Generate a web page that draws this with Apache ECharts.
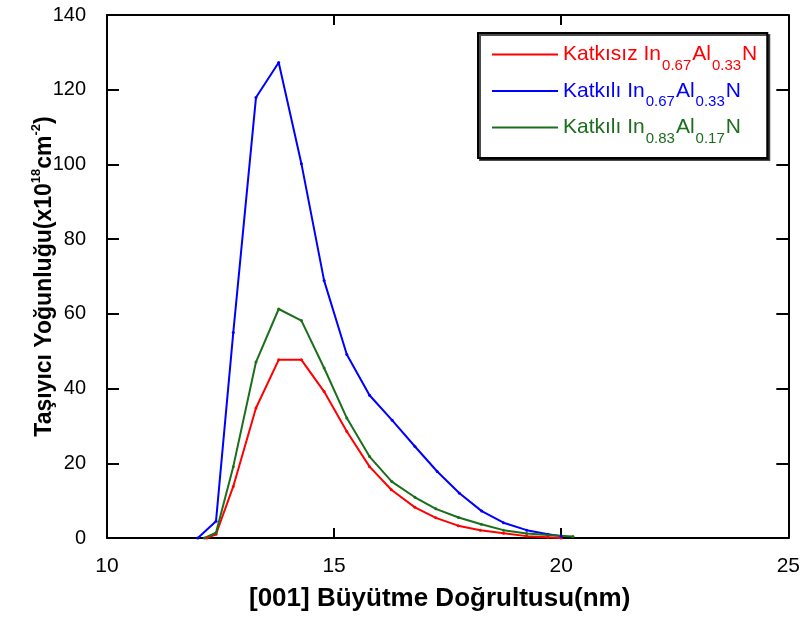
<!DOCTYPE html>
<html>
<head>
<meta charset="utf-8">
<script src="https://cdn.jsdelivr.net/npm/echarts@6/dist/echarts.min.js"></script>
<style>
html,body{margin:0;padding:0;background:#fff;}
#chart{width:803px;height:617px;}
</style>
</head>
<body>
<div id="chart"></div>
<script>
// ---- data ----
var seriesNames = ['Katkısız In0.67Al0.33N', 'Katkılı In0.67Al0.33N', 'Katkılı In0.83Al0.17N'];

var redX  = [12.2, 12.4, 12.78, 13.28, 13.78, 14.28, 14.78, 15.28, 15.78, 16.26, 16.78, 17.24, 17.73, 18.22, 18.73, 19.24, 19.71, 20.0];
var redY  = [0, 1.0, 13.8, 34.8, 47.7, 47.7, 39.2, 28.5, 19.1, 12.9, 8.2, 5.4, 3.3, 2.1, 1.3, 0.5, 0.2, 0];

var blueX = [12.0, 12.4, 12.78, 13.28, 13.78, 14.28, 14.78, 15.28, 15.78, 16.28, 16.78, 17.27, 17.76, 18.25, 18.73, 19.24, 19.71, 20.0];
var blueY = [0, 4.5, 55, 117.9, 127.3, 100.2, 68.9, 49.1, 38.2, 31.5, 24.5, 17.8, 12.0, 7.2, 4.1, 2.1, 1.0, 0.5];

var greenX = [12.15, 12.4, 12.78, 13.28, 13.78, 14.28, 14.78, 15.28, 15.78, 16.27, 16.78, 17.24, 17.74, 18.24, 18.73, 19.24, 19.71, 20.26];
var greenY = [0, 1.4, 19.1, 47.1, 61.3, 58.2, 45.5, 32.1, 21.8, 15.1, 10.9, 7.8, 5.5, 3.7, 2.1, 1.2, 0.8, 0.4];

var xTicks = {min: 10, max: 25, interval: 5};
var yTicks = {min: 0, max: 140, interval: 20};

var colors = ['#ff0000', '#0000ff', '#1b6e1b'];

function pairs(xs, ys) { return xs.map(function (x, i) { return [x, ys[i]]; }); }

var chart = echarts.init(document.getElementById('chart'), null, {renderer: 'canvas'});
var FONT = 'Liberation Sans, Arial, sans-serif';
var axisLineStyle = {color: '#000', width: 2};

var legendRich = {};
var pre = ['r', 'b', 'g'];
pre.forEach(function (p, i) {
  legendRich[p + 't'] = {fontSize: 21, color: colors[i], fontFamily: FONT, lineHeight: 41, verticalAlign: 'middle'};
  legendRich[p + 's'] = {fontSize: 15, color: colors[i], fontFamily: FONT, verticalAlign: 'top', padding: [24, 1, 0, 1]};
});

var option = {
  animation: false,
  backgroundColor: '#fff',
  grid: {left: 107, right: 14, top: 15, bottom: 79, containLabel: false},
  legend: {
    orient: 'vertical',
    left: 478,
    top: 33,
    padding: [11, 10, 12, 14],
    itemGap: 7.5,
    icon: 'rect',
    itemWidth: 66,
    itemHeight: 2,
    borderColor: '#000',
    borderWidth: 2,
    backgroundColor: '#fff',
    shadowColor: 'rgba(0,0,0,0.7)',
    shadowOffsetX: 2,
    shadowOffsetY: 2,
    shadowBlur: 0,
    data: seriesNames,
    textStyle: {fontFamily: FONT, fontSize: 21, rich: legendRich},
    formatter: function (name) {
      var i = seriesNames.indexOf(name);
      var p = pre[i];
      var m = name.match(/^(.* In)([\d.]+)(Al)([\d.]+)(N)$/);
      return '{' + p + 't|' + m[1] + '}{' + p + 's|' + m[2] + '}{' + p + 't|' + m[3] + '}{' + p + 's|' + m[4] + '}{' + p + 't|' + m[5] + '}';
    }
  },
  xAxis: [{
    type: 'value', position: 'bottom',
    min: xTicks.min, max: xTicks.max, interval: xTicks.interval,
    name: '[001] Büyütme Doğrultusu(nm)',
    nameLocation: 'middle', nameGap: 48, nameMoveOverlap: false,
    nameTextStyle: {fontFamily: FONT, fontSize: 26, fontWeight: 'bold', color: '#000', padding: [0, 16, 0, 0]},
    axisLine: {onZero: false, lineStyle: axisLineStyle},
    axisTick: {inside: true, length: 10, lineStyle: axisLineStyle},
    axisLabel: {fontFamily: FONT, fontSize: 21, color: '#000', margin: 18},
    splitLine: {show: false}
  }, {
    type: 'value', position: 'top',
    min: xTicks.min, max: xTicks.max, interval: xTicks.interval,
    axisLine: {onZero: false, lineStyle: axisLineStyle},
    axisTick: {inside: true, length: 10, lineStyle: axisLineStyle},
    axisLabel: {show: false},
    splitLine: {show: false}
  }],
  yAxis: [{
    type: 'value', position: 'left',
    min: yTicks.min, max: yTicks.max, interval: yTicks.interval,
    name: '{a|Taşıyıcı Yoğunluğu(x10}{b|18}{a|cm}{b|-2}{a|)}',
    nameLocation: 'middle', nameGap: 47, nameMoveOverlap: false,
    nameTextStyle: {
      rich: {
        a: {fontFamily: FONT, fontSize: 23, fontWeight: 'bold', color: '#000', lineHeight: 30, verticalAlign: 'middle'},
        b: {fontFamily: FONT, fontSize: 13, fontWeight: 'bold', color: '#000', lineHeight: 12, verticalAlign: 'top'}
      }
    },
    axisLine: {onZero: false, lineStyle: axisLineStyle},
    axisTick: {inside: true, length: 12, lineStyle: axisLineStyle},
    axisLabel: {fontFamily: FONT, fontSize: 20, color: '#000', margin: 21},
    splitLine: {show: false}
  }, {
    type: 'value', position: 'right',
    min: yTicks.min, max: yTicks.max, interval: yTicks.interval,
    axisLine: {onZero: false, lineStyle: axisLineStyle},
    axisTick: {inside: true, length: 12, lineStyle: axisLineStyle},
    axisLabel: {show: false},
    splitLine: {show: false}
  }],
  series: [
    {name: seriesNames[0], type: 'line', data: pairs(redX, redY), color: colors[0],
     symbol: 'circle', symbolSize: 3, lineStyle: {width: 2}},
    {name: seriesNames[1], type: 'line', data: pairs(blueX, blueY), color: colors[1],
     symbol: 'circle', symbolSize: 3, lineStyle: {width: 2}},
    {name: seriesNames[2], type: 'line', data: pairs(greenX, greenY), color: colors[2],
     symbol: 'circle', symbolSize: 3, lineStyle: {width: 2}}
  ]
};
chart.setOption(option);
</script>
</body>
</html>
